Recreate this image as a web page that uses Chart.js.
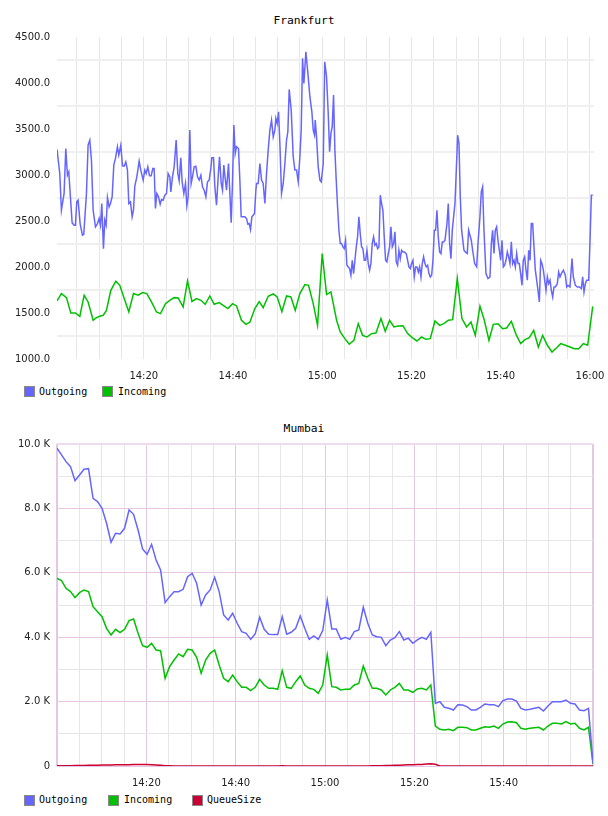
<!DOCTYPE html>
<html><head><meta charset="utf-8">
<script src="https://cdn.jsdelivr.net/npm/chart.js@4.4.1/dist/chart.umd.min.js"></script>
<style>
body{margin:0;background:#fff;width:608px;height:816px;overflow:hidden;position:relative}
.title{position:absolute;left:0;width:608px;text-align:center;font-family:'DejaVu Sans Mono',monospace;font-size:11.3px;line-height:14px;color:#000}
.leg{position:absolute;font-family:'DejaVu Sans Mono',monospace;font-size:10px;line-height:12px;color:#000;white-space:nowrap}
.box{position:absolute;width:9px;height:9px;border:1px solid #888}
canvas{position:absolute;left:0;top:0}
</style></head><body>
<div class="title" style="top:14px">Frankfurt</div>
<div style="position:absolute;left:0;top:0;width:608px;height:385px"><canvas id="c1" width="608" height="385"></canvas></div>
<div class="box" style="left:24px;top:386px;background:#6666ff"></div><div class="leg" style="left:39px;top:386px">Outgoing</div>
<div class="box" style="left:102px;top:386px;background:#00c000"></div><div class="leg" style="left:118px;top:386px">Incoming</div>

<div class="title" style="top:422px">Mumbai</div>
<div style="position:absolute;left:0;top:400px;width:608px;height:392px"><canvas id="c2" width="608" height="392"></canvas></div>
<div class="box" style="left:24px;top:795px;background:#6666ff"></div><div class="leg" style="left:39px;top:794px">Outgoing</div>
<div class="box" style="left:108px;top:795px;background:#00c000"></div><div class="leg" style="left:124px;top:794px">Incoming</div>
<div class="box" style="left:192px;top:795px;background:#cc0033"></div><div class="leg" style="left:207px;top:794px">QueueSize</div>
<script>
// ---- Frankfurt (time = minutes after 14:00) ----
const fraOutTime = [0.55,1.17,1.54,2.14,2.52,2.89,3.19,3.94,4.39,4.68,4.98,5.28,5.73,6.25,6.55,7.15,7.52,7.90,8.27,8.65,9.17,9.62,9.99,10.29,10.59,10.96,11.26,11.56,11.86,12.23,12.53,12.91,13.28,13.65,14.10,14.40,14.85,15.22,15.60,15.97,16.34,16.64,17.02,17.39,17.69,17.99,18.44,18.96,19.33,19.86,20.23,20.53,20.90,21.28,21.65,22.02,22.32,22.62,22.92,23.29,23.67,23.97,24.34,24.71,25.09,25.46,25.84,26.06,26.43,26.81,27.25,27.63,27.93,28.30,28.60,28.98,29.35,29.65,29.95,30.32,30.62,30.92,31.29,31.67,32.04,32.41,32.79,33.16,33.53,33.91,34.28,34.66,35.03,35.25,35.63,35.93,36.30,36.67,36.97,37.35,37.64,37.94,38.24,38.54,38.99,39.29,39.59,39.89,40.19,40.48,40.78,41.23,41.53,41.83,42.28,42.65,43.03,43.32,43.62,43.92,44.22,44.52,44.82,45.12,45.27,45.64,46.02,46.39,46.76,47.14,47.51,47.88,48.26,48.63,49.01,49.38,49.60,49.90,50.20,50.50,50.87,51.25,51.62,51.99,52.29,52.59,53.04,53.49,53.86,54.24,54.61,54.98,55.28,55.58,55.88,56.33,56.78,57.23,57.67,57.97,58.27,58.42,58.72,59.09,59.47,59.77,60.22,60.55,60.96,61.34,61.64,61.94,62.23,62.53,62.83,63.13,63.43,63.73,64.03,64.33,64.63,64.92,65.22,65.52,65.82,66.12,66.42,66.72,67.02,67.32,67.62,67.91,68.21,68.51,68.81,69.11,69.41,69.71,70.01,70.31,70.61,70.90,71.20,71.50,71.80,72.10,72.40,72.70,73.00,73.30,73.59,73.89,74.19,74.49,74.79,75.09,75.39,75.69,75.99,76.29,76.58,76.88,77.18,77.48,77.78,78.08,78.38,78.83,79.13,79.42,79.72,80.02,80.32,80.62,80.92,81.22,81.52,81.82,82.12,82.41,82.71,83.01,83.31,83.61,83.91,84.21,84.51,84.81,85.11,85.40,85.70,86.00,86.30,86.60,86.90,87.20,87.50,87.95,88.24,88.54,88.84,89.14,89.44,89.74,90.04,90.34,90.64,90.93,91.23,91.76,92.06,92.50,92.80,93.10,93.40,93.70,94.15,94.60,94.90,95.34,95.64,95.94,96.24,96.69,97.14,97.59,97.89,98.18,98.48,98.78,99.08,99.38,99.68,99.98,100.28,100.58,100.88,101.17,101.47,101.77,102.07,102.37,102.67,102.97,103.27,103.57,103.87,104.16,104.46,104.76,105.06,105.36,105.66,105.96,106.26,106.56,106.85,107.15,107.45,107.75,108.05,108.35,108.65,108.95,109.25,109.55,109.84,110.14,110.44,110.74,111.04,111.34,111.64,111.94,112.24,112.68,112.98,113.28,113.58,114.03,114.48,114.78,115.08,115.52,115.97,116.27,116.72,117.17,117.62,118.07,118.36,118.66,118.96,119.26,119.71,120.01,120.31,120.61];
const fraOutValue = [3278,3016,2617,2799,3288,2998,3034,2480,2454,2454,2708,2726,2472,2345,2356,2799,3325,3379,3161,2617,2436,2472,2527,2454,2690,2200,2509,2454,2755,2654,2690,2763,3107,3180,3307,3216,3325,3100,3096,3143,3053,2690,2708,2545,2617,2879,2980,3151,3053,2944,3053,3016,3089,2991,2991,3071,3071,2636,2799,2763,2683,2733,2726,2781,2799,3016,2980,2817,2980,3089,3379,3016,2937,3187,2926,2799,2908,2665,2763,3488,2908,2980,3089,3096,2980,2944,2998,2871,2835,2763,2926,2944,3071,3187,3187,2871,2672,2980,3198,2908,2835,3107,2962,2835,3125,2799,2480,2944,3542,3234,3307,3288,2944,2545,2545,2545,2527,2465,2472,2407,2545,2563,2581,2835,2908,2908,3125,2944,2908,2690,3016,3270,3488,3597,3415,3488,3615,3560,3687,3343,2799,2908,3125,3379,3470,3930,3706,3198,3053,3053,2926,3198,3488,4268,3996,4340,4104,3851,3687,3488,3433,3597,3415,3089,2944,2926,3125,4231,4068,3669,3252,3452,3524,3869,3270,2944,2654,2400,2255,2255,2218,2200,2291,2019,2001,1983,1910,2073,1928,2073,2218,2327,2545,2364,2218,2200,2073,2073,2182,2037,1965,2037,2255,2327,2237,2255,2200,2218,2781,2690,2617,2327,2073,2055,2146,2218,2436,2218,2255,2382,2055,2019,2182,2091,2182,2164,2164,2146,2073,2001,1983,2037,2073,1892,2001,2001,1946,2001,1892,2037,2110,2037,2001,2019,1928,1892,1910,2073,2400,2400,2617,2327,2164,2146,2273,2273,2291,2472,2690,2255,2091,2400,2545,2690,3053,3433,3343,2763,2400,2182,2164,2146,2400,2345,2291,2182,2037,2001,2255,2545,2817,2871,2400,1928,1874,1892,2255,2400,2146,2400,2436,2291,2182,2073,2291,2001,2019,2073,2164,2110,2037,2273,2037,2073,2001,2146,2037,2037,1928,1801,2073,2110,1965,1856,2182,2073,2472,2472,2218,1965,1856,1747,1620,2073,2037,1965,1856,1747,1892,1819,1856,1747,1674,1783,1783,1819,1946,1892,1928,1965,1910,1783,1801,1783,2091,1892,1801,1783,1783,1765,1892,1729,1819,1856,1856,2291,2781,2781];
const fraInTime = [0.55,1.54,2.67,3.64,4.68,5.66,6.63,7.52,8.65,9.39,10.14,10.89,11.63,12.61,13.73,14.62,15.75,16.64,17.69,18.74,19.71,20.68,21.72,22.85,23.74,24.86,25.83,26.81,27.70,28.82,29.80,30.80,31.81,32.79,33.76,34.80,35.78,36.90,37.79,38.84,39.89,40.78,41.90,42.88,43.77,44.89,45.87,46.76,47.88,49.01,49.90,50.95,51.99,52.97,53.94,54.98,56.11,56.93,57.97,58.94,59.99,60.96,61.94,63.21,64.03,65.07,66.05,67.09,68.06,69.04,70.01,71.05,72.03,73.15,74.12,75.09,76.06,77.03,78.08,79.13,80.17,81.22,82.27,83.24,84.21,85.25,86.30,87.27,88.24,89.22,90.26,91.30,92.35,93.33,94.30,95.34,96.32,97.36,98.33,99.38,100.43,101.32,102.37,103.42,104.46,105.43,106.41,107.38,108.42,109.40,110.44,111.49,112.53,113.43,114.48,115.52,116.50,117.47,118.51,119.48,120.61];
const fraInValue = [1631,1711,1667,1500,1500,1464,1693,1620,1421,1450,1464,1475,1529,1747,1845,1801,1638,1511,1711,1693,1722,1711,1620,1511,1493,1602,1638,1667,1664,1566,1849,1625,1656,1638,1595,1685,1595,1613,1584,1548,1602,1577,1421,1377,1399,1548,1624,1558,1682,1707,1674,1515,1685,1674,1529,1711,1809,1801,1602,1366,2146,1700,1729,1421,1294,1221,1160,1203,1384,1257,1239,1276,1283,1439,1301,1421,1348,1359,1362,1276,1232,1196,1239,1214,1221,1413,1366,1384,1421,1428,1874,1439,1348,1402,1257,1573,1421,1203,1377,1384,1330,1337,1410,1268,1167,1210,1232,1312,1130,1257,1149,1076,1123,1167,1149,1130,1112,1112,1167,1149,1573];
const fraYTicks = [1000,1250,1500,1750,2000,2250,2500,2750,3000,3250,3500,3750,4000,4250,4500];

// ---- Mumbai (one sample per ~minute from 14:00) ----
const mumOut = [9867,9660,9452,9297,8862,9038,9215,9235,8314,8210,8003,7537,6948,7227,7206,7382,7951,7817,7330,6740,6574,6885,6398,6088,5073,5260,5415,5415,5487,5881,5984,5674,5001,5311,5467,5860,5415,4690,4535,4742,4432,4173,4121,3934,4100,4618,4245,4090,4080,4080,4638,4090,4152,4276,4659,4276,3934,4038,3934,4204,5156,4255,4255,3934,3996,3934,4173,4224,4928,4431,4069,4017,3996,3737,3914,3986,4173,3914,3970,3810,3914,3996,3934,4152,1946,1998,1822,1791,1739,1905,1895,1843,1739,1739,1822,1926,1905,1905,1843,2029,2081,2081,2019,1791,1739,1760,1791,1822,1708,1864,1998,1998,1998,2050,1946,1926,1739,1719,1791,83];
const mumIn = [5829,5756,5518,5415,5228,5384,5467,5415,4949,4794,4638,4276,4069,4245,4142,4245,4514,4566,4121,3737,3686,3810,3603,3582,2723,3085,3292,3479,3396,3624,3603,3375,2878,3292,3500,3603,3137,2723,2619,2826,2619,2443,2443,2340,2443,2692,2516,2412,2412,2381,2961,2443,2412,2619,2795,2516,2412,2381,2257,2516,3448,2464,2443,2361,2381,2381,2516,2567,3106,2723,2412,2412,2361,2205,2361,2443,2567,2361,2361,2288,2391,2412,2361,2516,1242,1139,1118,1139,1097,1201,1201,1191,1118,1118,1170,1221,1201,1242,1170,1304,1367,1377,1346,1170,1139,1170,1191,1201,1118,1242,1325,1325,1304,1377,1304,1325,1170,1118,1201,62];
const mumQueue = [5,5,8,10,12,15,18,20,22,25,28,30,32,35,38,40,42,45,48,50,48,40,30,20,10,5,3,2,2,2,2,2,2,2,2,2,2,2,2,2,2,2,2,2,2,2,2,2,2,2,8,2,2,2,2,2,2,2,2,2,2,2,2,2,2,2,2,2,2,2,5,8,10,12,15,20,25,30,35,40,45,50,60,70,55,0,0,0,0,0,0,0,0,0,0,0,0,0,0,0,0,0,0,0,0,0,0,0,0,0,0,0,0,0,0,0,0,0,0,0];
const mumSampleMinutes = 120 / 119;   // sample spacing
const mumTime = mumOut.map((_, i) => i * mumSampleMinutes);
const mumYTicks = [0,1000,2000,3000,4000,5000,6000,7000,8000,9000,10000];

const xTickMinutes = [5,10,15,20,25,30,35,40,45,50,55,60,65,70,75,80,85,90,95,100,105,110,115,120];
const BLUE = '#6666ff', GREEN = '#00c000', RED = '#cc0033';

const fmtTime = v => (14 + Math.floor(v / 60)) + ':' + String(Math.round(v % 60)).padStart(2, '0');
const pts = (xs, ys) => xs.map((x, i) => ({x, y: ys[i]}));
const tickFont = {family: 'DejaVu Sans', size: 10};
const line = (label, data, color) => ({label, data, borderColor: color, backgroundColor: color, borderWidth: 1.5, pointRadius: 0, tension: 0, fill: false});

new Chart(document.getElementById('c1'), {
  type: 'line',
  data: {datasets: [
    line('Outgoing', pts(fraOutTime, fraOutValue), BLUE),
    line('Incoming', pts(fraInTime, fraInValue), GREEN)
  ]},
  options: {
    responsive: false, animation: false, events: [],
    layout: {padding: {top: 37, right: 14, left: 0, bottom: 0}},
    plugins: {legend: {display: false}, title: {display: false}, tooltip: {enabled: false}},
    scales: {
      x: {
        type: 'linear', min: 0.55, max: 120.9,
        afterBuildTicks: s => { s.ticks = xTickMinutes.map(v => ({value: v})); },
        afterFit: s => { s.height = 26; s.paddingLeft = 0; s.paddingRight = 0; },
        ticks: {autoSkip: false, maxRotation: 0, padding: 11, color: '#222', font: tickFont,
                callback: v => (v % 20 === 0 ? fmtTime(v) : '')},
        grid: {color: '#e6e6e6', lineWidth: 1, drawTicks: false},
        border: {display: false}
      },
      y: {
        min: 1000, max: 4500,
        afterBuildTicks: s => { s.ticks = fraYTicks.map(v => ({value: v})); },
        afterFit: s => { s.width = 57; s.paddingTop = 0; s.paddingBottom = 0; },
        ticks: {autoSkip: false, padding: 7, color: '#222', font: tickFont,
                callback: v => (v % 500 === 0 ? v.toFixed(1) : '')},
        grid: {color: c => (c.tick && c.tick.value % 500 === 0 ? 'rgba(0,0,0,0)' : '#efefef'), lineWidth: 2, drawTicks: false},
        border: {display: false}
      }
    }
  }
});

new Chart(document.getElementById('c2'), {
  type: 'line',
  data: {datasets: [
    line('Outgoing', pts(mumTime, mumOut), BLUE),
    line('Incoming', pts(mumTime, mumIn), GREEN),
    line('QueueSize', pts(mumTime, mumQueue), RED)
  ]},
  options: {
    responsive: false, animation: false, events: [],
    layout: {padding: {top: 44, right: 15, left: 0, bottom: 0}},
    plugins: {legend: {display: false}, title: {display: false}, tooltip: {enabled: false}},
    scales: {
      x: {
        type: 'linear', min: 0, max: 120,
        afterBuildTicks: s => { s.ticks = [0].concat(xTickMinutes).map(v => ({value: v})); },
        afterFit: s => { s.height = 26; s.paddingLeft = 0; s.paddingRight = 0; },
        ticks: {autoSkip: false, maxRotation: 0, padding: 11, color: '#222', font: tickFont,
                callback: v => (v % 20 === 0 && v > 0 && v < 120 ? fmtTime(v) : '')},
        grid: {color: c => (c.tick && c.tick.value % 20 === 0 ? '#e2c8e2' : '#e6e6e6'),
               lineWidth: c => (c.tick && (c.tick.value === 0 || c.tick.value === 120) ? 2 : 1), drawTicks: false},
        border: {display: false}
      },
      y: {
        min: 0, max: 10000,
        afterBuildTicks: s => { s.ticks = mumYTicks.map(v => ({value: v})); },
        afterFit: s => { s.width = 57; s.paddingTop = 0; s.paddingBottom = 0; },
        ticks: {autoSkip: false, padding: 7, color: '#222', font: tickFont,
                callback: v => (v === 0 ? '0' : (v % 2000 === 0 ? (v / 1000).toFixed(1) + ' K' : ''))},
        grid: {color: c => (c.tick && c.tick.value % 2000 === 0 ? (c.tick.value === 10000 ? '#eedcee' : '#e2c8e2') : '#e6e6e6'),
               lineWidth: c => (c.tick && c.tick.value === 10000 ? 2 : 1), drawTicks: false},
        border: {display: false}
      }
    }
  }
});
</script>
</body></html>
